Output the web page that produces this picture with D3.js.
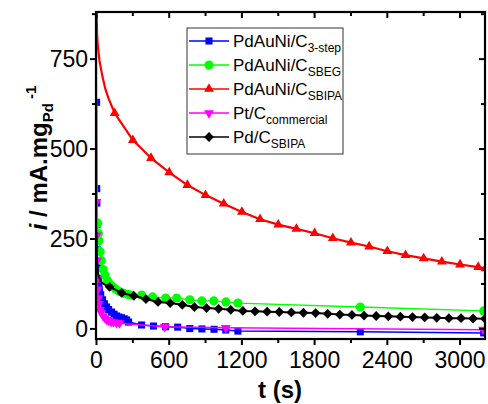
<!DOCTYPE html>
<html><head><meta charset="utf-8">
<script src="https://cdn.jsdelivr.net/npm/d3@7/dist/d3.min.js"></script>
<style>body{margin:0;background:#fff} text{font-family:Arial,"Liberation Sans",Helvetica,sans-serif}</style>
</head><body><svg id="c" width="488" height="404"></svg>
<script>
// ---- data (time in s, current density in mA/mg_Pd) ----
const xTicks = [0, 600, 1200, 1800, 2400, 3000];
const yTicks = [0, 250, 500, 750];

const blueT = [1, 2, 3, 4, 6, 10, 15, 20, 25, 35, 50, 65, 83, 100, 124, 145, 166, 185, 207, 230, 248, 265, 372, 470, 570, 670, 770, 870, 970, 1067, 1167, 2177, 3195];
const blueV = [630, 390, 350, 290, 220, 170, 140, 120, 108, 95, 81, 70, 61, 54, 47, 41, 36, 33, 31, 28, 25, 19, 11, 8, 6, 5, 1, 0, -1, -3, -6, -8, -11];

const greenT = [0, 1, 2, 4, 7, 10, 15, 20, 30, 40, 55, 70, 90, 110, 135, 160, 190, 225, 260, 290, 372, 463, 571, 662, 770, 869, 968, 1068, 1167, 2177, 3195];
const greenV = [950, 700, 520, 400, 330, 294, 265, 245, 215, 190, 165, 150, 135, 125, 117, 110, 104, 99, 96, 94, 94, 89, 86, 86, 81, 78, 78, 75, 72, 61, 50];

const redT = [0, 5, 10, 25, 50, 75, 100, 150, 300, 450, 600, 750, 900, 1050, 1200, 1350, 1500, 1650, 1800, 1950, 2100, 2250, 2400, 2550, 2700, 2850, 3000, 3150, 3210];
const redV = [900, 820, 790, 745, 700, 665, 640, 600, 525, 475, 435, 400, 372, 348, 325, 305, 290, 278, 266, 252, 240, 229, 216, 205, 196, 187, 179, 172, 168];

const magT = [0.5, 2, 4, 7, 10, 15, 20, 30, 40, 55, 70, 85, 100, 120, 140, 165, 190, 563, 1067, 3190];
const magV = [353, 260, 190, 140, 110, 86, 70, 53, 45, 36, 30, 25, 23, 20, 19, 17, 16, 6, 3, -2];

const blackT = [0, 2, 5, 10, 20, 35, 55, 80, 108, 208, 308, 408, 508, 608, 708, 808, 908, 1008, 1108, 1208, 1308, 1408, 1508, 1608, 1708, 1808, 1908, 2008, 2108, 2208, 2308, 2408, 2508, 2608, 2708, 2808, 2908, 3008, 3108, 3206];
const blackV = [270, 220, 185, 160, 145, 133, 126, 121, 117, 100, 92, 83, 75, 72, 67, 61, 58, 56, 53, 50, 49, 48, 47, 46, 45, 44, 42, 40, 39, 37, 36, 35, 34, 33, 32, 31, 30, 30, 29, 28];

const seriesNames = ["PdAuNi/C", "PdAuNi/C", "PdAuNi/C", "Pt/C", "Pd/C"];
const seriesSubs = ["3-step", "SBEG", "SBIPA", "commercial", "SBIPA"];

// ---- layout ----
const L = 96, R = 485, T = 12, B = 339;
const svg = d3.select("#c");
const x = d3.scaleLinear().domain([-4, 3206]).range([L, R]);
const y = d3.scaleLinear().domain([-28, 881]).range([B, T]);

svg.append("clipPath").attr("id", "clip").append("rect")
  .attr("x", L).attr("y", T).attr("width", R - L).attr("height", B - T);

const series = [
  {t: blueT, v: blueV, color: "#0000ff", lw: 1.5, sym: "square", from: 0},
  {t: greenT, v: greenV, color: "#00ff00", lw: 1.3, sym: "circle", from: 10},
  {t: redT, v: redV, color: "#ff0000", lw: 2.2, sym: "tri", from: 150},
  {t: magT, v: magV, color: "#ff00ff", lw: 1.5, sym: "tridown", from: 0},
  {t: blackT, v: blackV, color: "#000000", lw: 2, sym: "diamond", from: 100}
];

function symPath(g, s, color) {
  if (s === "square") g.append("path").attr("d", d3.symbol(d3.symbolSquare, 50)());
  else if (s === "circle") g.append("path").attr("d", d3.symbol(d3.symbolCircle, 66)());
  else if (s === "tri") g.append("path").attr("d", d3.symbol(d3.symbolTriangle, 42)());
  else if (s === "tridown") g.append("path").attr("d", d3.symbol(d3.symbolTriangle, 42)()).attr("transform", "rotate(180)");
  else if (s === "diamond") g.append("path").attr("d", d3.symbol(d3.symbolSquare, 48)()).attr("transform", "rotate(45)");
  g.selectAll("path").attr("fill", color).attr("stroke", "none");
}

const plot = svg.append("g").attr("clip-path", "url(#clip)");
const line = d3.line().x(d => x(d[0])).y(d => y(d[1]));
series.forEach(s => {
  const pts = s.t.map((t, i) => [t, s.v[i]]);
  plot.append("path").datum(pts).attr("d", line).attr("fill", "none")
    .attr("stroke", s.color).attr("stroke-width", s.lw).attr("stroke-linejoin", "round");
  pts.filter(p => p[0] >= s.from).forEach(p => {
    const g = plot.append("g").attr("transform", `translate(${x(p[0])},${y(p[1])})`);
    symPath(g, s.sym, s.color);
  });
});

// ---- axes ----
const fs = 23;
const xMinor = d3.range(0, 3201, 300);
const yMinor = d3.range(0, 881, 125);
const ax = svg.append("g");
xMinor.forEach(v => {
  const major = v % 600 === 0;
  ax.append("line").attr("x1", x(v)).attr("x2", x(v)).attr("y1", B).attr("y2", B + (major ? 6 : 4)).attr("stroke", "#000").attr("stroke-width", 2);
  ax.append("line").attr("x1", x(v)).attr("x2", x(v)).attr("y1", T).attr("y2", T + (major ? 6 : 4)).attr("stroke", "#000").attr("stroke-width", 2);
});
yMinor.forEach(v => {
  const major = v % 250 === 0;
  ax.append("line").attr("y1", y(v)).attr("y2", y(v)).attr("x1", L).attr("x2", L - (major ? 6 : 4)).attr("stroke", "#000").attr("stroke-width", 2);
  ax.append("line").attr("y1", y(v)).attr("y2", y(v)).attr("x1", R).attr("x2", R - (major ? 6 : 4)).attr("stroke", "#000").attr("stroke-width", 2);
});
xTicks.forEach(v => ax.append("text").attr("x", x(v)).attr("y", 368).attr("text-anchor", "middle").attr("font-size", fs).text(v));
yTicks.forEach(v => ax.append("text").attr("x", 88).attr("y", y(v)).attr("dy", "0.36em").attr("text-anchor", "end").attr("font-size", fs).text(v));
svg.append("rect").attr("x", L).attr("y", T).attr("width", R - L).attr("height", B - T)
  .attr("fill", "none").attr("stroke", "#000").attr("stroke-width", 2.2);

// axis titles
svg.append("text").attr("x", 280).attr("y", 398).attr("text-anchor", "middle")
  .attr("font-size", 24).attr("font-weight", "bold").text("t (s)");
const yl = svg.append("text").attr("transform", "translate(47,158) rotate(-90)")
  .attr("text-anchor", "middle").attr("font-size", 24).attr("font-weight", "bold");
yl.append("tspan").attr("font-style", "italic").text("i");
yl.append("tspan").text(" / mA.mg");
yl.append("tspan").attr("font-size", 15).attr("dy", 6).text("Pd");
yl.append("tspan").attr("font-size", 15).attr("dy", -17).attr("dx", 4).text("-1");

// ---- legend ----
const lg = svg.append("g");
lg.append("rect").attr("x", 187).attr("y", 28).attr("width", 156).attr("height", 126)
  .attr("fill", "#fff").attr("stroke", "#333").attr("stroke-width", 1);
series.forEach((s, i) => {
  const yy = 41 + i * 24;
  lg.append("line").attr("x1", 189).attr("x2", 229).attr("y1", yy).attr("y2", yy)
    .attr("stroke", s.color).attr("stroke-width", 1.5);
  const g = lg.append("g").attr("transform", `translate(209,${yy})`);
  symPath(g, s.sym, s.color);
  const t = lg.append("text").attr("x", 233).attr("y", yy + 6).attr("font-size", 17);
  t.append("tspan").text(seriesNames[i]);
  t.append("tspan").attr("font-size", 12).attr("dy", 5).text(seriesSubs[i]);
});
</script></body></html>
